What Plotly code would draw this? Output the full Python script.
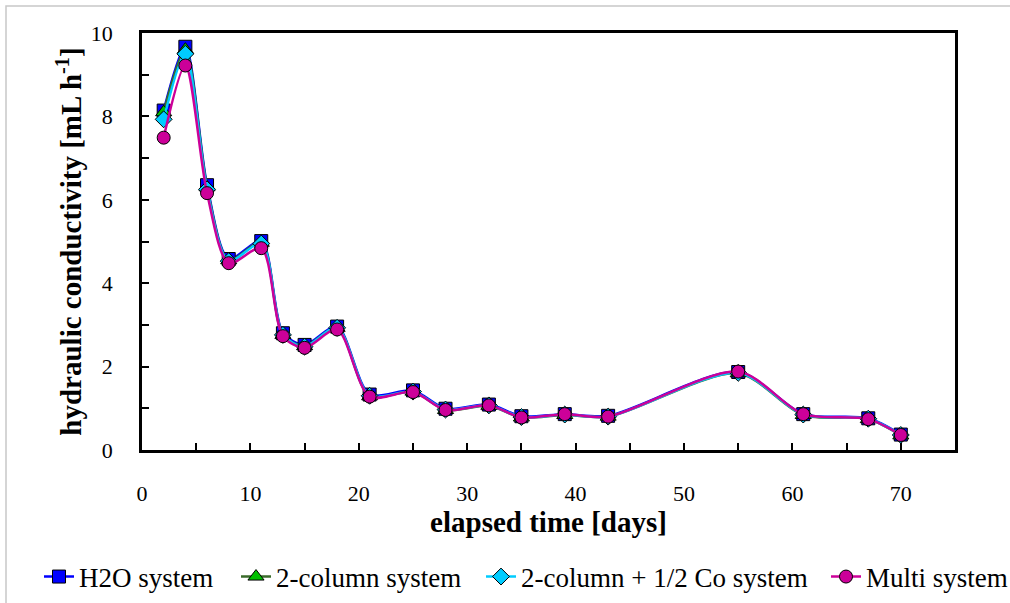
import plotly.graph_objects as go

days = [2, 4, 6, 8, 11, 13, 15, 18, 21, 25, 28, 32, 35, 39, 43, 55, 61, 67, 70]
h2o = [8.14, 9.67, 6.35, 4.58, 5.01, 2.80, 2.52, 2.96, 1.33, 1.43, 0.99, 1.09, 0.81, 0.86, 0.82, 1.87, 0.86, 0.76, 0.37]
two_col = [8.10, 9.60, 6.30, 4.55, 4.97, 2.76, 2.49, 2.93, 1.29, 1.40, 0.96, 1.06, 0.78, 0.84, 0.80, 1.84, 0.84, 0.74, 0.35]
two_col_co = [7.93, 9.50, 6.25, 4.53, 4.95, 2.76, 2.48, 2.93, 1.30, 1.40, 0.97, 1.07, 0.79, 0.85, 0.80, 1.85, 0.85, 0.75, 0.36]
multi = [7.49, 9.22, 6.16, 4.48, 4.84, 2.73, 2.45, 2.89, 1.28, 1.39, 0.96, 1.07, 0.78, 0.86, 0.80, 1.88, 0.86, 0.74, 0.36]

series = [
    ("H2O system", h2o, "#0000FF", "square", "#0000FF"),
    ("2-column system", two_col, "#3A6B2A", "triangle-up", "#00C000"),
    ("2-column + 1/2 Co system", two_col_co, "#00CCFF", "diamond", "#00CCFF"),
    ("Multi system", multi, "#CC0099", "circle", "#CC0099"),
]
legend_text_x = [78, 275, 520, 865]  # left pixel of each legend label

font_family = "Liberation Serif, Times New Roman, serif"
L, T, R, B = 142, 33, 55, 153
W, H = 1010, 603
pw = W - L - R
ph = H - T - B

fig = go.Figure()
legend_layouts = {}
for i, (name, vals, lc, sym, fc) in enumerate(series):
    lname = "legend" if i == 0 else f"legend{i + 1}"
    fig.add_trace(go.Scatter(
        x=days, y=vals, name=name, mode="lines+markers", legend=lname,
        line=dict(color=lc, width=2.5, shape="spline", smoothing=0.8),
        marker=dict(symbol=sym, size=13 if sym != "triangle-up" else 14, color=fc,
                    line=dict(color="black", width=1)),
    ))
    legend_layouts[lname] = dict(
        orientation="h", x=(legend_text_x[i] - 39 - L) / pw, xanchor="left",
        y=(H - B - 577) / ph, yanchor="middle",
        font=dict(size=27, family=font_family, color="black"),
        bgcolor="rgba(0,0,0,0)", borderwidth=0, visible=True,
    )

fig.update_layout(
    width=W, height=H,
    margin=dict(l=L, r=R, t=T, b=B, autoexpand=False),
    paper_bgcolor="white", plot_bgcolor="white",
    showlegend=True,
    font=dict(family=font_family, size=22, color="black"),
    xaxis=dict(
        range=[0, 75], tickvals=[0, 10, 20, 30, 40, 50, 60, 70],
        ticks="inside", ticklen=7, tickwidth=2, tickcolor="black",
        minor=dict(tickvals=[5, 15, 25, 35, 45, 55, 65], ticks="inside", ticklen=7, tickwidth=2, tickcolor="black"),
        showline=True, linecolor="black", linewidth=2.5, mirror=True,
        showgrid=False, zeroline=False,
        ticklabelstandoff=22,
        title=dict(text="<b>elapsed time [days]</b>", font=dict(size=29), standoff=6),
    ),
    yaxis=dict(
        range=[0, 10], tickvals=[0, 2, 4, 6, 8, 10],
        ticks="inside", ticklen=7, tickwidth=2, tickcolor="black",
        minor=dict(tickvals=[1, 3, 5, 7, 9], ticks="inside", ticklen=7, tickwidth=2, tickcolor="black"),
        showline=True, linecolor="black", linewidth=2.5, mirror=True,
        showgrid=False, zeroline=False,
        ticklabelstandoff=22,
        title=dict(text="<b>hydraulic conductivity [mL h<sup>-1</sup>]</b>", font=dict(size=29), standoff=1),
    ),
    shapes=[dict(type="rect", xref="paper", yref="paper",
                 x0=(6 - L) / pw, x1=(W + 20 - L) / pw,
                 y0=(H - B - (H + 20)) / ph, y1=(H - B - 6) / ph,
                 line=dict(color="#C8C8C8", width=1.5), layer="below")],
    **legend_layouts,
)

fig.write_html("out.html")
